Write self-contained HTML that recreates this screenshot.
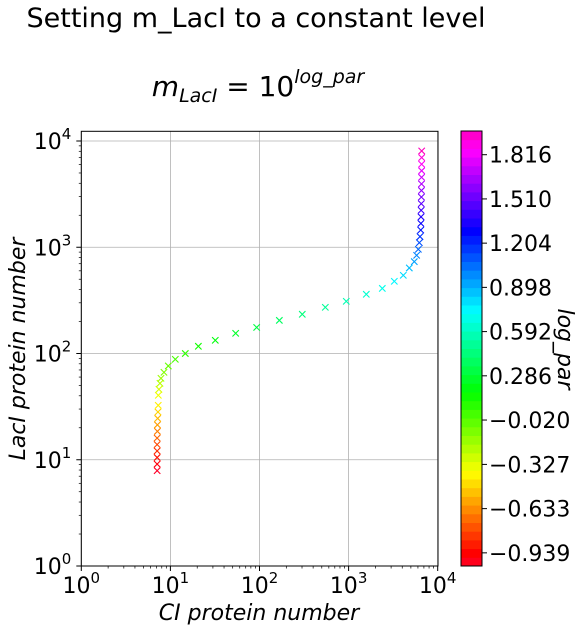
<!DOCTYPE html>
<html><head><meta charset="utf-8"><style>
body{margin:0;background:#fff;width:582px;height:633px;overflow:hidden}
svg{display:block;font-family:"DejaVu Sans","Liberation Sans",sans-serif}
</style></head><body>
<svg id="chart" width="582" height="633" viewBox="0 0 582 633" xmlns="http://www.w3.org/2000/svg">
<text x="256" y="27" font-size="27" text-anchor="middle" fill="#000">Setting m_LacI to a constant level</text>
<text x="258" y="96" font-size="28" text-anchor="middle" fill="#000"><tspan font-style="italic">m</tspan><tspan font-style="italic" font-size="19" dy="6">LacI</tspan><tspan dy="-6"> = 10</tspan><tspan font-style="italic" font-size="19" dy="-13">log_par</tspan></text>
<g id="grid"></g>
<g id="marks"></g>
<g id="axes"></g>
<g id="cbar"></g>
<text x="259" y="620" font-size="22" font-style="italic" text-anchor="middle">CI protein number</text>
<text transform="translate(25,349) rotate(-90)" font-size="22" font-style="italic" text-anchor="middle">LacI protein number</text>
<text transform="translate(558,349) rotate(90)" font-size="22" font-style="italic" text-anchor="middle">log_par</text>
</svg>
<script>
const logPar = [];
const ciValues = [7.1,7.1,7.1,7.1,7.1,7.1,7.15,7.15,7.2,7.25,7.3,
 7.32,7.44,7.64,7.84,8.47,9.47,11.35,14.7,20.6,31.9,54,92.9,167,302,548,942,1580,2390,3260,4110,4800,5460,5800,6060,6220,6330,
 6450,6480,6500,6520,6540,6560,6570,6580,6590,6600,6600,6610,6610];
const laciValues = [7.9,9.1,10.5,12.1,13.9,16.0,18.5,21.3,24.5,28.2,32.5,
 40.4,46,52.4,58.4,66.5,76.3,88.1,100,117,133,155,176,205,234,272,310,361,410,478,544,638,732,840,956,1104,1259,
 1452,1675,1932,2228,2570,2965,3420,3945,4550,5248,6053,6982,8054];
const cbarTicks = [-0.939,-0.633,-0.327,-0.020,0.286,0.592,0.898,1.204,1.510,1.816];
const cbarTickLabels = ["\u22120.939","\u22120.633","\u22120.327","\u22120.020","0.286","0.592","0.898","1.204","1.510","1.816"];
const axisDecades = [0,1,2,3,4];
for (let i=0;i<50;i++) logPar.push(-1+3*i/49);

const NS="http://www.w3.org/2000/svg";
function mk(tag,attrs,parent){const e=document.createElementNS(NS,tag);for(const k in attrs)e.setAttribute(k,attrs[k]);parent.appendChild(e);return e;}
const L=81.3,R=438,T=131.3,B=566;
const xS=v=>L+Math.log10(v)*89.1;
const yS=v=>B-Math.log10(v)*106.25;
const cMin=-1.03,cMax=1.98,cT=131,cB=566,cL=461,cR=482;
const cY=v=>cB-(v-cMin)/(cMax-cMin)*(cB-cT);
const stops=[[0,[1,0,.16]],[.03,[1,0,0]],[.215,[1,1,0]],[.4,[0,1,0]],[.586,[0,1,1]],[.77,[0,0,1]],[.954,[1,0,1]],[1,[1,0,.75]]];
function cmap(t){t=Math.max(0,Math.min(1,t));for(let i=1;i<stops.length;i++){if(t<=stops[i][0]){const a=stops[i-1],b=stops[i];const f=(t-a[0])/(b[0]-a[0]);const c=a[1].map((v,j)=>Math.round(255*(v+(b[1][j]-v)*f)));return `rgb(${c[0]},${c[1]},${c[2]})`;}}return "rgb(255,0,191)";}

const grid=document.getElementById('grid'),axes=document.getElementById('axes'),marks=document.getElementById('marks'),cbar=document.getElementById('cbar');
axisDecades.forEach(d=>{
 const v=Math.pow(10,d);
 const gx=mk('line',{x1:xS(v),x2:xS(v),y1:T,y2:B,stroke:'#b0b0b0','stroke-width':0.8},grid);
 
 
 const gy=mk('line',{x1:L,x2:R,y1:yS(v),y2:yS(v),stroke:'#b0b0b0','stroke-width':0.8},grid);
 
 
 mk('line',{x1:xS(v),x2:xS(v),y1:B,y2:B+5,stroke:'#000','stroke-width':1},axes);
 mk('line',{x1:L-5,x2:L,y1:yS(v),y2:yS(v),stroke:'#000','stroke-width':1},axes);
 const xl=mk('text',{x:xS(v),y:B+27,'font-size':22,'text-anchor':'middle'},axes);
 
 
 xl.innerHTML=`10<tspan font-size="15" dy="-10">${d}</tspan>`;
 const yl=mk('text',{x:L-10,y:yS(v)+8,'font-size':22,'text-anchor':'end'},axes);
 
 
 yl.innerHTML=`10<tspan font-size="15" dy="-10">${d}</tspan>`;
 if(d<4)for(let m=2;m<10;m++){const mv=m*v;
  mk('line',{x1:xS(mv),x2:xS(mv),y1:B,y2:B+2.5,stroke:'#000','stroke-width':0.7},axes);
  mk('line',{x1:L-2.5,x2:L,y1:yS(mv),y2:yS(mv),stroke:'#000','stroke-width':0.7},axes);}
});
for(let m=2;m<10;m++){const mv=m*1e4;if(yS(mv)>T)mk('line',{x1:L-2.5,x2:L,y1:yS(mv),y2:yS(mv),stroke:'#000','stroke-width':0.7},axes);}
const frame=mk('rect',{x:L,y:T,width:R-L,height:B-T,fill:'none',stroke:'#000','stroke-width':1},axes);



for(let i=0;i<logPar.length;i++){
 const x=xS(ciValues[i]),y=yS(laciValues[i]);
 const t=(logPar[i]+1)/3,c=cmap(t),s=3.2;
 const g=mk('path',{d:`M${x-s},${y-s}L${x+s},${y+s}M${x-s},${y+s}L${x+s},${y-s}`,stroke:c,'stroke-width':1.1,fill:'none'},marks);
 
 
}
const N=50;
for(let k=0;k<N;k++){
 const y0=cB-(k+1)*(cB-cT)/N;
 const r=mk('rect',{x:cL,y:y0,width:cR-cL,height:(cB-cT)/N+0.5,fill:cmap((k+0.5)/N)},cbar);
 
 
}
mk('rect',{x:cL,y:cT,width:cR-cL,height:cB-cT,fill:'none',stroke:'#000','stroke-width':1},cbar);
cbarTicks.forEach((v,i)=>{const y=cY(v);
 mk('line',{x1:cR,x2:cR+5,y1:y,y2:y,stroke:'#000','stroke-width':1},cbar);
 const t=mk('text',{x:cR+7,y:y+8,'font-size':22},cbar);
 
 
 t.textContent=cbarTickLabels[i];
});
</script>
</body></html>
